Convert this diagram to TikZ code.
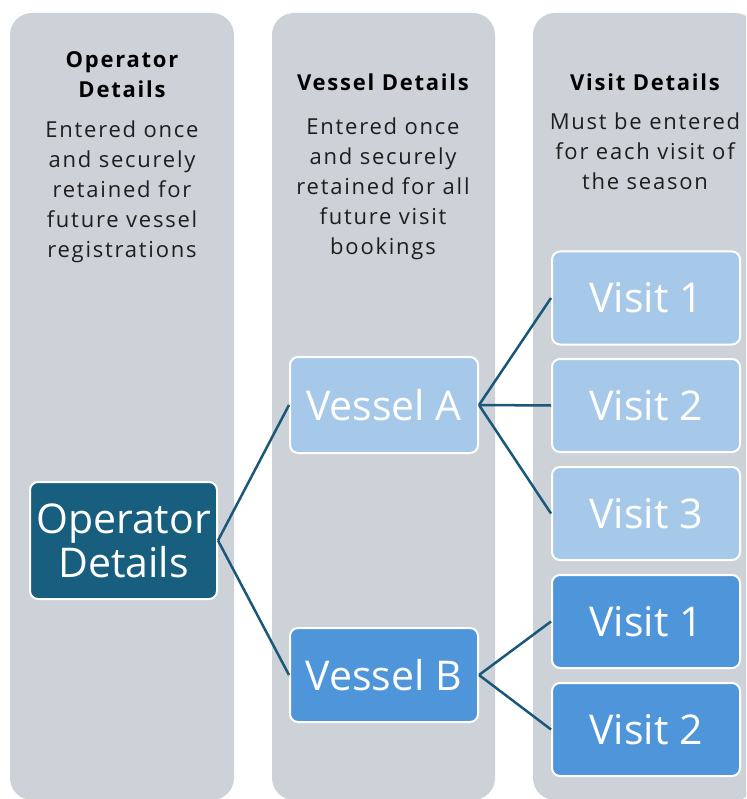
\documentclass[tikz,border=0pt]{standalone}
\usepackage{fontspec}
\setmainfont{Open Sans}
\newfontfamily\notefont[LetterSpace=8]{Open Sans}
\newcommand{\stack}[1]{\begin{tabular}[t]{@{}c@{}}#1\end{tabular}}
\begin{document}
\begin{tikzpicture}[x=1pt,y=-1pt,
  column/.style={fill=colbg, draw=none, rounded corners=22pt},
  box/.style={draw=white, line width=2pt, rounded corners=8pt, minimum width=188pt,
    text=white, font=\fontsize{41}{44}\selectfont, align=center, inner sep=0pt},
  opbox/.style={box, fill=opblue, minimum height=117pt},
  vabox/.style={box, fill=lightblue, minimum height=94pt},
  vbbox/.style={box, fill=midblue, minimum height=94pt},
  head/.style={font=\notefont\bfseries\fontsize{22}{29.5}\selectfont, text=black, anchor=base, inner sep=0pt},
  body/.style={font=\notefont\fontsize{22}{30}\selectfont, text=bodytext, anchor=base, inner sep=0pt},
  link/.style={draw=linkcol, line width=2.5pt}]
\definecolor{colbg}{HTML}{CDD2D9}
\definecolor{opblue}{HTML}{175E7F}
\definecolor{lightblue}{HTML}{A6C9EA}
\definecolor{midblue}{HTML}{4F95D9}
\definecolor{linkcol}{HTML}{1A5878}
\definecolor{bodytext}{HTML}{1E1E1E}
\useasboundingbox (0,0) rectangle (746,799);
\clip (0,0) rectangle (746,799);

% three background columns
\path[column] (10,13) rectangle (234,800);
\path[column] (272,13) rectangle (495,800);
\path[column] (533,13) rectangle (757,800);

% column headings and notes
\node[head] (h1) at (122,68) {\stack{Operator\\Details}};
\node[body] (n1) at (122,138) {\stack{Entered once\\and securely\\retained for\\future vessel\\registrations}};
\node[head] (h2) at (383,91) {Vessel Details};
\node[body] (n2) at (383,135) {\stack{Entered once\\and securely\\retained for all\\future visit\\bookings}};
\node[head] (h3) at (645,91) {Visit Details};
\node[body] (n3) at (645,130) {\stack{Must be entered\\for each visit of\\the season}};

% boxes
\node[opbox, minimum width=187pt] (op) at (123.5,540.5) {Operator\\Details};
\node[vabox, minimum height=96pt] (va) at (384,405) {Vessel A};
\node[vbbox] (vb) at (384,675) {Vessel B};
\node[vabox, minimum height=93pt] (a1) at (646,298) {Visit 1};
\node[vabox, minimum height=93pt] (a2) at (646,405.5) {Visit 2};
\node[vabox, minimum height=93pt] (a3) at (646,513.5) {Visit 3};
\node[vbbox, minimum height=93pt] (b1) at (646,621.5) {Visit 1};
\node[vbbox, minimum height=93pt] (b2) at (646,729.5) {Visit 2};

% connectors
\draw[link] (op.east) -- (va.west);
\draw[link] (op.east) -- (vb.west);
\draw[link] (va.east) -- (a1.west);
\draw[link] (va.east) -- (a2.west);
\draw[link] (va.east) -- (a3.west);
\draw[link] (vb.east) -- (b1.west);
\draw[link] (vb.east) -- (b2.west);
\end{tikzpicture}
\end{document}
